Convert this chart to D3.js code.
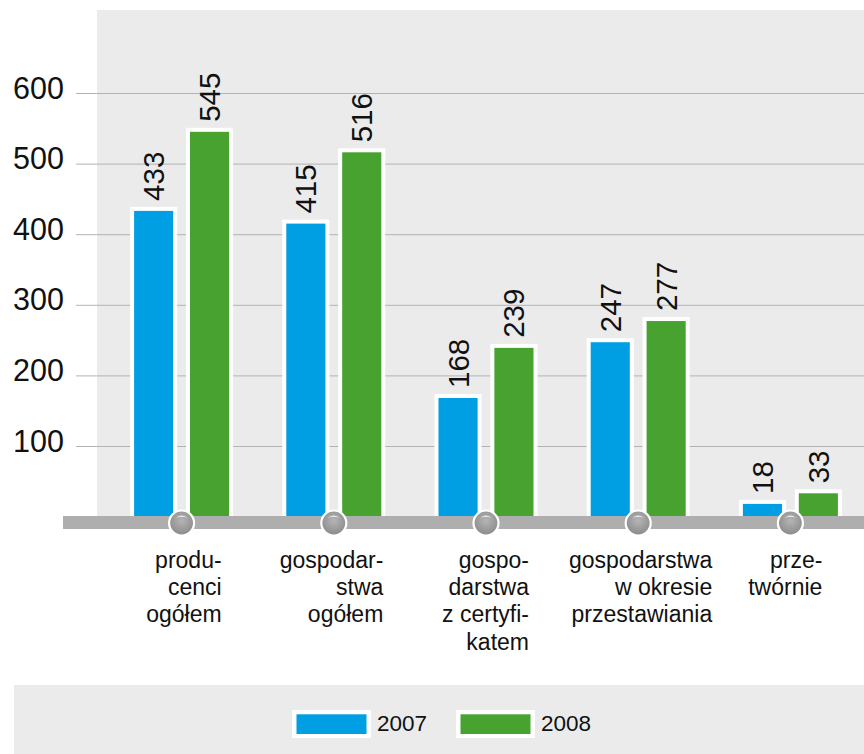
<!DOCTYPE html>
<html>
<head>
<meta charset="utf-8">
<script src="https://cdn.jsdelivr.net/npm/d3@7"></script>
<style>
  html, body { margin: 0; padding: 0; background: #fff; }
  svg { display: block; font-family: "Liberation Sans", Arial, sans-serif; }
</style>
</head>
<body>
<svg id="chart" width="864" height="754"></svg>
<script>
// ---- data ----
const categories = [
  ["produ-", "cenci", "ogółem"],
  ["gospodar-", "stwa", "ogółem"],
  ["gospo-", "darstwa", "z certyfi-", "katem"],
  ["gospodarstwa", "w okresie", "przestawiania"],
  ["prze-", "twórnie"]
];
const seriesNames = ["2007", "2008"];
const values2007 = [433, 415, 168, 247, 18];
const values2008 = [545, 516, 239, 277, 33];
const yTicks = [100, 200, 300, 400, 500, 600];

// ---- layout / style ----
const colors = { "2007": "#009fe3", "2008": "#48a22f" };
const labelDx = [40, 49.5, 43, 74, 32];
const W = 864, H = 754;

const svg = d3.select("#chart");

const defs = svg.append("defs");
const grad = defs.append("radialGradient").attr("id", "knob")
  .attr("cx", "50%").attr("cy", "40%").attr("r", "60%");
grad.append("stop").attr("offset", "0%").attr("stop-color", "#b5b5b5");
grad.append("stop").attr("offset", "60%").attr("stop-color", "#9b9b9b");
grad.append("stop").attr("offset", "100%").attr("stop-color", "#8a8a8a");

// plot panel
svg.append("rect").attr("x", 97).attr("y", 10).attr("width", W - 97).attr("height", 507)
  .attr("fill", "#ebebeb");

const y = d3.scaleLinear().domain([0, 600]).range([516.6, 93]);
const x0 = d3.scaleBand().domain(d3.range(categories.length)).range([105.5, 866.5]).padding(0);
const gw = 95;
const x1 = d3.scaleBand().domain(seriesNames).range([0, gw]).paddingInner(0.3).paddingOuter(0);

// gridlines + tick labels via axis
const axis = d3.axisLeft(y).tickValues(yTicks).tickSize(-(W - 76)).tickPadding(0).tickFormat(d3.format("d"));
const gAxis = svg.append("g").attr("transform", "translate(76,0)").call(axis);
gAxis.select(".domain").remove();
gAxis.selectAll(".tick line").attr("stroke", "#b3b3b3").attr("stroke-width", 1)
  .attr("x1", 0).attr("x2", W - 76);
gAxis.selectAll(".tick text")
  .attr("x", -12).attr("dy", null).attr("y", 5)
  .attr("text-anchor", "end")
  .attr("font-size", 30.5).attr("fill", "#111")
  .attr("font-family", "Liberation Sans, Arial, sans-serif");

// bars
const data = categories.map((c, i) => ({
  i, vals: [{ s: "2007", v: values2007[i] }, { s: "2008", v: values2008[i] }]
}));
const groups = svg.append("g").selectAll("g").data(data).join("g")
  .attr("transform", d => `translate(${x0(d.i) + x0.bandwidth() / 2 - gw / 2},0)`);

groups.selectAll("rect.border").data(d => d.vals).join("rect").attr("class", "border")
  .attr("x", d => x1(d.s) - 4).attr("width", x1.bandwidth() + 8)
  .attr("y", d => y(d.v) - 4).attr("height", d => y(0) - y(d.v) + 4)
  .attr("fill", "#fff");
groups.selectAll("rect.bar").data(d => d.vals).join("rect").attr("class", "bar")
  .attr("x", d => x1(d.s)).attr("width", x1.bandwidth())
  .attr("y", d => y(d.v)).attr("height", d => y(0) - y(d.v))
  .attr("fill", d => colors[d.s]);
groups.selectAll("text.val").data(d => d.vals).join("text").attr("class", "val")
  .attr("transform", d => `translate(${x1(d.s) + x1.bandwidth() / 2 + 10.5},${y(d.v) - 10}) rotate(-90)`)
  .attr("font-size", 29.5).attr("fill", "#111")
  .text(d => d.v);

// baseline bar
svg.append("rect").attr("x", 63).attr("y", 516).attr("width", W - 63).attr("height", 13)
  .attr("fill", "#aeaeae");

// knobs
const knobs = svg.append("g").selectAll("g").data(data).join("g")
  .attr("transform", d => `translate(${x0(d.i) + x0.bandwidth() / 2},523)`);
knobs.append("circle").attr("r", 12.5)
  .attr("fill", "url(#knob)").attr("stroke", "#fff").attr("stroke-width", 2.2);
knobs.append("path")
  .attr("d", "M-6,-5 Q0,-10 6,-5 Q0,-7.5 -6,-5 Z")
  .attr("fill", "#fff").attr("opacity", 0.85);

// category labels
const lab = svg.append("g").selectAll("text").data(data).join("text")
  .attr("text-anchor", "end").attr("font-size", 23).attr("fill", "#111")
  .attr("x", d => x0(d.i) + x0.bandwidth() / 2 + labelDx[d.i]).attr("y", 568);
lab.selectAll("tspan").data(d => categories[d.i].map(t => ({ t, x: x0(d.i) + x0.bandwidth() / 2 + labelDx[d.i] })))
  .join("tspan").attr("x", d => d.x).attr("dy", (d, k) => k === 0 ? 0 : 27.2).text(d => d.t);

// legend
svg.append("rect").attr("x", 14).attr("y", 685).attr("width", W - 14).attr("height", H - 685)
  .attr("fill", "#ebebeb");
const legX = d3.scaleOrdinal().domain(seriesNames).range([292, 456]);
const leg = svg.append("g").selectAll("g").data(seriesNames).join("g")
  .attr("transform", d => `translate(${legX(d)},710)`);
leg.append("rect").attr("width", 79).attr("height", 28).attr("fill", "#fff");
leg.append("rect").attr("x", 4.5).attr("y", 4.3).attr("width", 70).attr("height", 19.7)
  .attr("fill", d => colors[d]);
leg.append("text").attr("x", 85).attr("y", 21).attr("font-size", 22.5).attr("fill", "#111").text(d => d);
</script>
</body>
</html>
